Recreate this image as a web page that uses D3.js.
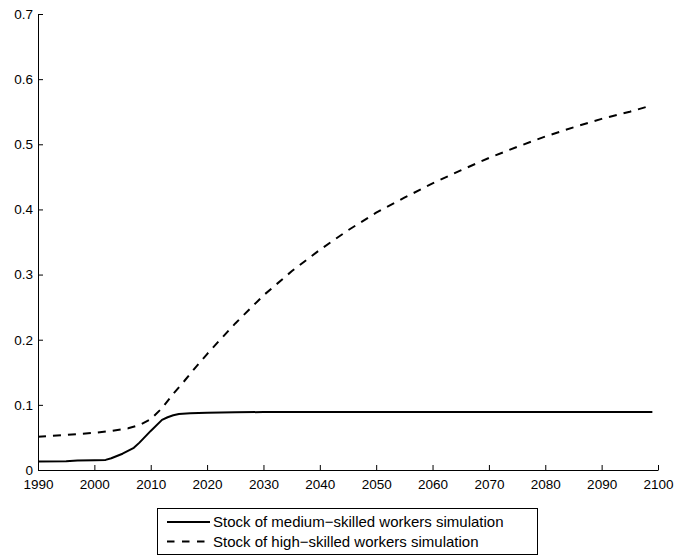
<!DOCTYPE html>
<html><head><meta charset="utf-8">
<script src="https://cdn.jsdelivr.net/npm/d3@7"></script>
<style>
body{margin:0;background:#fff;}
svg text{font-family:"Liberation Sans",Arial,Helvetica,sans-serif;fill:#000;}
</style></head>
<body>
<script>
const mediumYears  = [1990,1995,1997,2000,2002,2003,2005,2007,2008,2010,2012,2013,2014,2015,2017,2020,2025,2030,2099];
const mediumValues = [0.013,0.0135,0.0145,0.015,0.0155,0.018,0.025,0.034,0.042,0.060,0.077,0.081,0.084,0.086,0.087,0.088,0.0885,0.089,0.089];
const highYears  = [1990,1995,2000,2003,2006,2008,2010,2012,2014,2016,2018,2020,2022,2025,2030,2035,2040,2045,2050,2055,2060,2065,2070,2075,2080,2085,2090,2095,2099];
const highValues = [0.051,0.054,0.057,0.060,0.064,0.069,0.078,0.095,0.117,0.137,0.158,0.178,0.197,0.225,0.268,0.305,0.338,0.368,0.395,0.418,0.440,0.460,0.479,0.496,0.512,0.526,0.539,0.550,0.560];
const xTicks = [1990,2000,2010,2020,2030,2040,2050,2060,2070,2080,2090,2100];
const yTicks = [0,0.1,0.2,0.3,0.4,0.5,0.6,0.7];
const legendLabels = ["Stock of medium\u2212skilled workers simulation","Stock of high\u2212skilled workers simulation"];

const W=676,H=558;
const svg=d3.select("body").append("svg").attr("width",W).attr("height",H);
const x=d3.scaleLinear().domain([1990,2100]).range([38,658]);
const y=d3.scaleLinear().domain([0,0.7]).range([470,14]);

// axes
const xAxis=d3.axisBottom(x).tickValues(xTicks).tickFormat(d3.format("d")).tickSizeInner(-5).tickSizeOuter(0).tickPadding(9);
const gx=svg.append("g").attr("transform","translate(0,470)").call(xAxis);
const yAxis=d3.axisLeft(y).tickValues(yTicks).tickFormat(d=>d===0?"0":d3.format(".1f")(d)).tickSizeInner(-5).tickSizeOuter(0).tickPadding(5);
const gy=svg.append("g").attr("transform","translate(38,0)").call(yAxis);
[gx,gy].forEach(g=>{
  g.select(".domain").attr("stroke","#000").attr("stroke-width",1);
  g.selectAll(".tick line").attr("stroke","#000");
  g.selectAll(".tick text").attr("font-size","13.5px").attr("font-family","'Liberation Sans',Arial,sans-serif");
});

const line=d3.line().x(d=>x(d[0])).y(d=>y(d[1]));
const med=mediumYears.map((v,i)=>[v,mediumValues[i]]);
const hi=highYears.map((v,i)=>[v,highValues[i]]);
svg.append("path").datum(med).attr("d",line).attr("fill","none").attr("stroke","#000").attr("stroke-width",2).attr("stroke-linejoin","round");
svg.append("path").datum(hi).attr("d",line).attr("fill","none").attr("stroke","#000").attr("stroke-width",2).attr("stroke-dasharray","8,7");

// legend
const lg=svg.append("g");
lg.append("rect").attr("x",157.5).attr("y",508.5).attr("width",380).attr("height",46).attr("fill","#fff").attr("stroke","#000").attr("stroke-width",1);
const dashes=[null,"7.5,7.5"];
legendLabels.forEach((t,i)=>{
  const yy=522+i*19.5;
  lg.append("line").attr("x1",167).attr("x2",210).attr("y1",yy).attr("y2",yy).attr("stroke","#000").attr("stroke-width",2).attr("stroke-dasharray",dashes[i]);
  lg.append("text").attr("x",213).attr("y",yy).attr("dy","0.36em").attr("font-size","15px").text(t);
});
</script>
</body></html>
